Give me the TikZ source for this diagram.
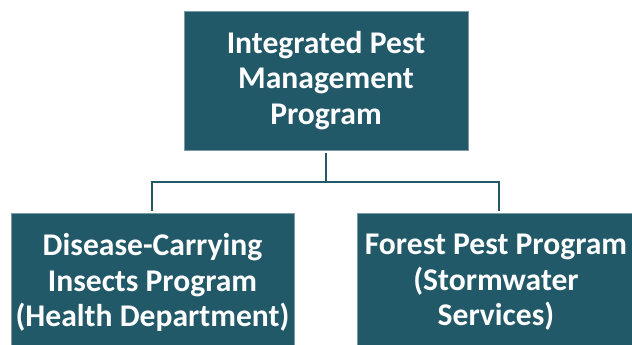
\documentclass[tikz,border=0pt]{standalone}
\usepackage{fontspec}
\setmainfont{Carlito}
\definecolor{teal5}{HTML}{215968}
\begin{document}
\begin{tikzpicture}[x=1pt,y=1pt,
  box/.style={draw=teal5!60!white, line width=0.6pt, fill=teal5, text=white, align=center,
    font=\fontsize{31.6}{35.5}\selectfont\bfseries, inner sep=0pt, anchor=center},
  conn/.style={draw=teal5, line width=2pt}]
\useasboundingbox (0,0) rectangle (632,-345);
\clip (0,0) rectangle (632,-345);
\node[box, minimum width=284pt, minimum height=139pt] (top) at (326,-80.5)
  {Integrated Pest\\Management\\Program};
\node[box, minimum width=283pt, minimum height=138pt] (left) at (152.5,-282.5)
  {Disease-Carrying\\Insects Program\\(Health Department)};
\node[box, minimum width=278pt, minimum height=138pt] (right) at (496,-282.5)
  {Forest Pest Program\\(Stormwater\\Services)};
\coordinate (mid) at (326,-182);
\draw[conn] ([yshift=-3pt]top.south) -- (mid);
\draw[conn] (mid) -| ([yshift=2pt,xshift=-0.5pt]left.north);
\draw[conn] (mid) -| ([yshift=2pt,xshift=3pt]right.north);
\end{tikzpicture}
\end{document}
